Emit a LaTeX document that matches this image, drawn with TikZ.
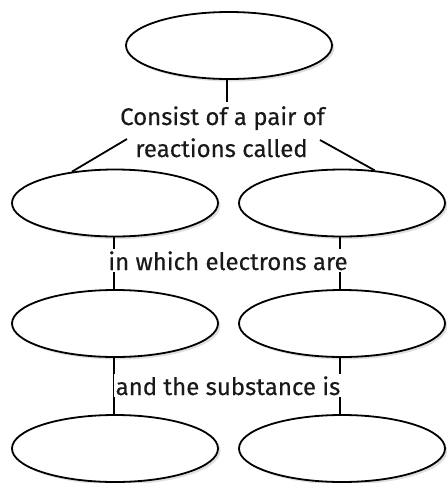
\documentclass[tikz,border=0pt]{standalone}
\usepackage{fontspec}
\setmainfont{Fira Sans}[FakeBold=0.35]
\usetikzlibrary{shapes.geometric,shadows}
\begin{document}
\begin{tikzpicture}[x=1pt,y=-1pt,
  bubble/.style={ellipse,draw=black,line width=1.8pt,fill=white,
    minimum width=206pt,minimum height=67pt,inner sep=0pt,
    drop shadow={opacity=0.25,shadow xshift=2.5pt,shadow yshift=-2.5pt}},
  link/.style={line width=1.8pt,draw=black},
  lbl/.style={font=\fontsize{24}{32}\selectfont\addfontfeature{FakeBold=0.35},fill=white,inner sep=2pt,text=black!90,anchor=base}]
\useasboundingbox (0,0) rectangle (447,483);
\node[bubble] (top) at (229,45.5) {};
\node[bubble] (l2) at (115,203) {};
\node[bubble] (r2) at (342,203) {};
\node[bubble] (l3) at (115,323.5) {};
\node[bubble] (r3) at (342,323.5) {};
\node[bubble] (l4) at (115,448.5) {};
\node[bubble] (r4) at (342,448.5) {};
\node[lbl,fill=none] (t1a) at (222.5,125) {Consist of a pair of};
\node[lbl,fill=none] (t1b) at (221.5,157) {reactions called};
\coordinate (t1top) at (227,102);
\coordinate (t1l) at (127,139);
\coordinate (t1r) at (320,140);
\draw[link] (top.south -| t1top) -- (t1top);
\draw[link] (t1l) -- (l2.144);
\draw[link] (t1r) -- (r2.45);
\draw[link] (l2.south -| 114,0) -- (l3.north -| 114,0);
\draw[link] (r2.south -| 340,0) -- (r3.north -| 340,0);
\draw[link] (l3.south -| 114,0) -- (l4.north -| 114,0);
\draw[link] (r3.south -| 340,0) -- (r4.north -| 340,0);
\node[lbl] (t2) at (228,270) {in which electrons are};
\node[lbl] (t3) at (228,395) {and the substance is};
\end{tikzpicture}
\end{document}
